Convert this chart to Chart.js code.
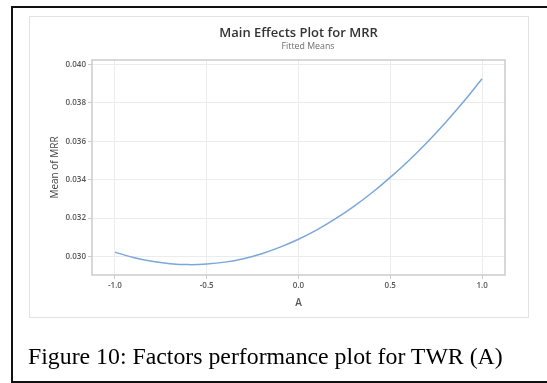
<!DOCTYPE html>
<html>
<head>
<meta charset="utf-8">
<script src="https://cdn.jsdelivr.net/npm/chart.js@4.4.1/dist/chart.umd.min.js"></script>
<style>
  html, body { margin: 0; padding: 0; background: #fff; }
  #page { position: relative; width: 547px; height: 383px; overflow: hidden; }
  #outer { position: absolute; left: 11px; top: 6px; width: 560px; height: 373px;
           border: 2px solid #111; }
  #frame { position: absolute; left: 29px; top: 16px; width: 498px; height: 300px;
           border: 1px solid #e3e3e3; }
  #chart { position: absolute; left: 0; top: 0; }
  #caption { position: absolute; left: 28px; top: 342px; font-family: "Liberation Serif", "Times New Roman", serif;
             font-size: 23.8px; line-height: 28px; color: #000; white-space: nowrap; }
</style>
</head>
<body>
<div id="page">
  <div id="outer"></div>
  <div id="frame"></div>
  <canvas id="chart" width="547" height="383"></canvas>
  <div id="caption">Figure 10: Factors performance plot for TWR (A)</div>
</div>
<script>
// valores (media ajustada de MRR contra o fator A)
const levelsA = [-1.0, -0.9, -0.8, -0.7, -0.6, -0.5, -0.4, -0.3, -0.2, -0.1, 0.0,
                 0.1, 0.2, 0.3, 0.4, 0.5, 0.6, 0.7, 0.8, 0.9, 1.0];
const meanMRR = [0.03023, 0.02995, 0.02975, 0.02963, 0.02958, 0.02961, 0.02971, 0.02989, 0.03015, 0.03049, 0.03090,
                 0.03139, 0.03196, 0.03260, 0.03332, 0.03412, 0.03499, 0.03594, 0.03697, 0.03807, 0.03925];
const xTicks = [-1.0, -0.5, 0.0, 0.5, 1.0];
const yTicks = [0.030, 0.032, 0.034, 0.036, 0.038, 0.040];
const titleText = "Main Effects Plot for MRR";
const subtitleText = "Fitted Means";

const pontos = levelsA.map((a, i) => ({ x: a, y: meanMRR[i] }));

// caixa da area do grafico + titulos
const extras = {
  id: "extras",
  afterDraw(chart) {
    const { ctx, chartArea: a } = chart;
    ctx.save();
    ctx.strokeStyle = "#cbcbcb";
    ctx.lineWidth = 1.5;
    ctx.strokeRect(a.left, a.top, a.right - a.left, a.bottom - a.top);
    ctx.textAlign = "center";
    ctx.textBaseline = "middle";
    ctx.fillStyle = "#333";
    ctx.font = '600 13px "Open Sans"';
    ctx.fillText(titleText, 298.5, 33);
    ctx.fillStyle = "#6e6e6e";
    ctx.font = '8.8px "Open Sans"';
    ctx.fillText(subtitleText, 308, 46.5);
    ctx.restore();
  },
};

Chart.defaults.font.family = '"Open Sans"';
Chart.defaults.color = "#555";

new Chart(document.getElementById("chart"), {
  type: "line",
  data: {
    datasets: [
      {
        data: pontos,
        borderColor: "#7ba7d9",
        borderWidth: 1.5,
        pointRadius: 0,
        tension: 0.3,
        fill: false,
      },
    ],
  },
  options: {
    responsive: false,
    animation: false,
    layout: { padding: { left: 29, top: 60, right: 42, bottom: 66 } },
    plugins: { legend: { display: false }, tooltip: { enabled: false } },
    scales: {
      x: {
        type: "linear",
        min: -1.125,
        max: 1.125,
        afterBuildTicks: (s) => { s.ticks = xTicks.map((v) => ({ value: v })); },
        afterFit: (s) => { s.height = 42; },
        ticks: {
          padding: 2,
          font: { size: 8, weight: "600" },
          color: "#555",
          callback: (v) => Number(v).toFixed(1),
        },
        grid: { color: "#ececec", tickLength: 4, tickColor: "#cbcbcb" },
        border: { display: false },
        title: {
          display: true,
          text: "A",
          font: { size: 10, weight: "600" },
          color: "#555",
          padding: { top: 0, bottom: 8 },
        },
      },
      y: {
        min: 0.02904,
        max: 0.04023,
        afterBuildTicks: (s) => { s.ticks = yTicks.map((v) => ({ value: v })); },
        afterFit: (s) => { s.width = 63; },
        ticks: {
          padding: 2,
          font: { size: 8, weight: "600" },
          color: "#555",
          callback: (v) => Number(v).toFixed(3),
        },
        grid: { color: "#ececec", tickLength: 4, tickColor: "#cbcbcb" },
        border: { display: false },
        title: {
          display: true,
          text: "Mean of MRR",
          font: { size: 10 },
          color: "#444",
          padding: { top: 20, bottom: 0 },
        },
      },
    },
  },
  plugins: [extras],
});
</script>
</body>
</html>
